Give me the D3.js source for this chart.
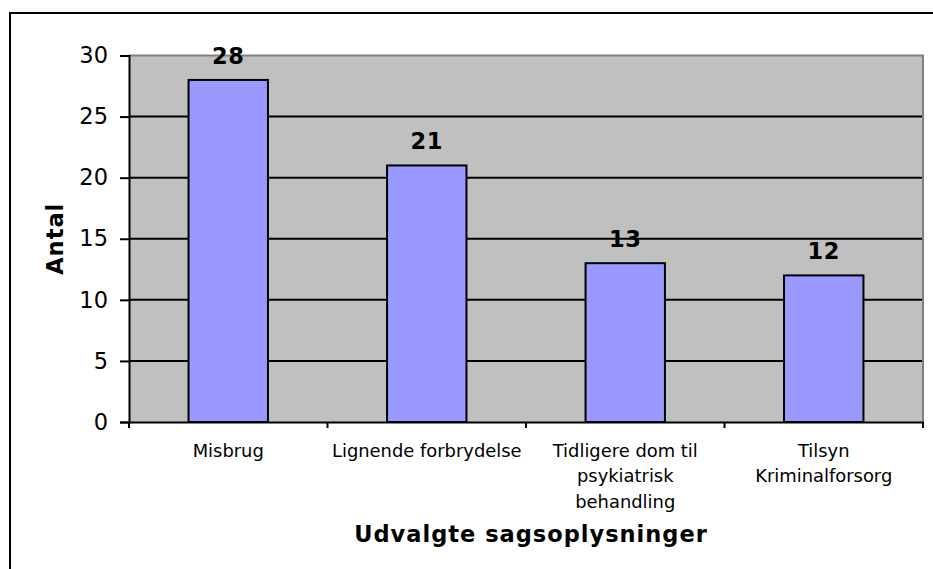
<!DOCTYPE html>
<html>
<head>
<meta charset="utf-8">
<script src="https://cdn.jsdelivr.net/npm/d3@7"></script>
<style>
  html, body { margin: 0; padding: 0; background: #fff; }
  svg { display: block; font-family: "DejaVu Sans", Verdana, sans-serif; }
</style>
</head>
<body>
<svg id="chart" width="933" height="569"></svg>
<script>
const categories = ["Misbrug", "Lignende forbrydelse", "Tidligere dom til\npsykiatrisk\nbehandling", "Tilsyn\nKriminalforsorg"];
const values = [28, 21, 13, 12];
const yTicks = [0, 5, 10, 15, 20, 25, 30];
const yTitle = "Antal";
const xTitle = "Udvalgte sagsoplysninger";

const svg = d3.select("#chart");
const plot = { left: 129, right: 923, top: 55.5, bottom: 422 };

// outer chart border (extends beyond the viewport on right/bottom)
svg.append("rect")
  .attr("x", 10).attr("y", 13).attr("width", 1000).attr("height", 1000)
  .attr("fill", "#fff").attr("stroke", "#000").attr("stroke-width", 2);

const x = d3.scaleBand().domain(categories).range([plot.left, plot.right]).paddingInner(0).paddingOuter(0);
const y = d3.scaleLinear().domain([0, 30]).range([plot.bottom, plot.top]);

// plot background
svg.append("rect")
  .attr("x", plot.left).attr("y", plot.top)
  .attr("width", plot.right - plot.left).attr("height", plot.bottom - plot.top)
  .attr("fill", "#C0C0C0");

// gridlines
svg.append("g").selectAll("line")
  .data(yTicks.filter(d => d > 0 && d < 30))
  .join("line")
  .attr("x1", plot.left).attr("x2", plot.right)
  .attr("y1", d => y(d)).attr("y2", d => y(d))
  .attr("stroke", "#000").attr("stroke-width", 2);

// plot border top/right (gray)
svg.append("path")
  .attr("d", `M${plot.left},${plot.top}H${plot.right}V${plot.bottom}`)
  .attr("fill", "none").attr("stroke", "#808080").attr("stroke-width", 2);

// bars
const barW = x.bandwidth() * 0.4;
svg.append("g").selectAll("rect")
  .data(values)
  .join("rect")
  .attr("x", (d, i) => x(categories[i]) + (x.bandwidth() - barW) / 2)
  .attr("y", d => y(d))
  .attr("width", barW)
  .attr("height", d => y(0) - y(d))
  .attr("fill", "#9999FF")
  .attr("stroke", "#000").attr("stroke-width", 2);

// data labels
svg.append("g").selectAll("text")
  .data(values)
  .join("text")
  .attr("x", (d, i) => x(categories[i]) + x.bandwidth() / 2)
  .attr("y", d => y(d) - 16)
  .attr("text-anchor", "middle")
  .attr("font-size", 22.5).attr("font-weight", "bold").attr("fill", "#000")
  .attr("letter-spacing", 0.5)
  .text(d => d);

// y axis
const yAxis = d3.axisLeft(y).tickValues(yTicks).tickSize(9).tickPadding(12).tickFormat(d3.format("d"));
const gy = svg.append("g").attr("transform", `translate(${plot.left},0)`).call(yAxis);
gy.select(".domain").attr("stroke", "#000").attr("stroke-width", 2);
gy.selectAll(".tick line").attr("stroke", "#000").attr("stroke-width", 2);
gy.selectAll(".tick text").attr("font-size", 22.5).attr("fill", "#000")
  .attr("font-family", "DejaVu Sans, Verdana, sans-serif");

// x axis
const gx = svg.append("g").attr("transform", `translate(0,${plot.bottom})`)
  .call(d3.axisBottom(x).tickSize(0).tickFormat(""));
gx.select(".domain").attr("stroke", "#000").attr("stroke-width", 2);
// category separator ticks
const tickPos = categories.map(c => x(c)).concat([plot.right]);
gx.append("g").selectAll("line").data(tickPos).join("line")
  .attr("x1", d => d).attr("x2", d => d).attr("y1", 0).attr("y2", 6)
  .attr("stroke", "#000").attr("stroke-width", 2);

// category labels
const catG = svg.append("g");
categories.forEach(c => {
  const lines = c.split("\n");
  const t = catG.append("text")
    .attr("text-anchor", "middle")
    .attr("font-size", 17.9).attr("fill", "#000");
  lines.forEach((ln, j) => {
    t.append("tspan")
      .attr("x", x(c) + x.bandwidth() / 2)
      .attr("y", 456.5 + j * 25.5)
      .text(ln);
  });
});

// axis titles
svg.append("text")
  .attr("x", (plot.left + plot.right) / 2 + 5).attr("y", 542)
  .attr("text-anchor", "middle")
  .attr("font-size", 22.5).attr("font-weight", "bold").attr("fill", "#000")
  .attr("letter-spacing", 1)
  .text(xTitle);

svg.append("text")
  .attr("transform", `translate(62.5,${(plot.top + plot.bottom) / 2}) rotate(-90)`)
  .attr("text-anchor", "middle")
  .attr("font-size", 22.5).attr("font-weight", "bold").attr("fill", "#000")
  .attr("letter-spacing", 1)
  .text(yTitle);
</script>
</body>
</html>
